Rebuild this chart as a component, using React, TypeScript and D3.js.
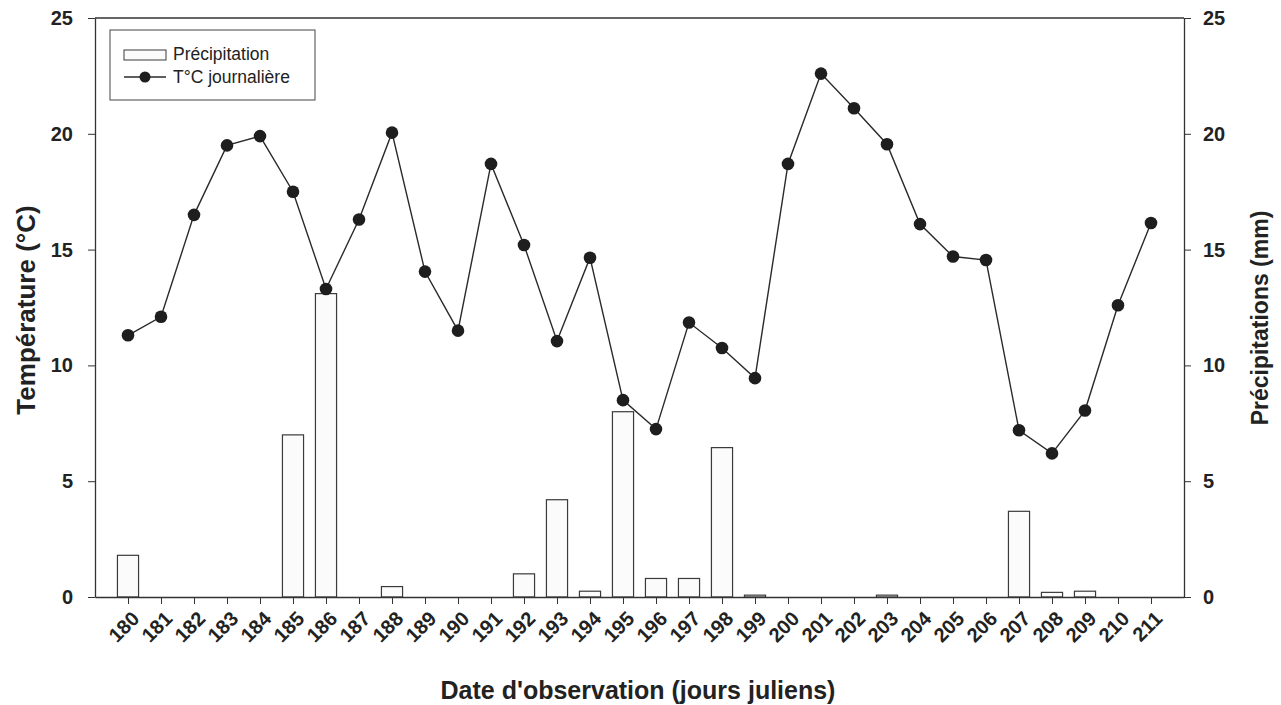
import React, {useEffect, useRef} from 'react';
import * as d3 from 'd3';

// Jours juliens observés
const days = d3.range(180, 212);

// Température journalière moyenne (°C)
const temperature = [
    11.3, 12.1, 16.5, 19.5, 19.9, 17.5, 13.3, 16.3, 20.05, 14.05,
    11.5, 18.7, 15.2, 11.05, 14.65, 8.5, 7.25, 11.85, 10.75, 9.45,
    18.7, 22.6, 21.1, 19.55, 16.1, 14.7, 14.55, 7.2, 6.2, 8.05,
    12.6, 16.15
];

// Précipitations (mm)
const precipitation = [
    1.8, 0, 0, 0, 0, 7.0, 13.1, 0, 0.45, 0,
    0, 0, 1.0, 4.2, 0.25, 8.0, 0.8, 0.8, 6.45, 0.08,
    0, 0, 0, 0.08, 0, 0, 0, 3.7, 0.2, 0.25,
    0, 0
];

const yTicks = [0, 5, 10, 15, 20, 25];

const width = 1281;
const height = 705;
const margin = {top: 18, right: 97, bottom: 108, left: 95};
const font = '"Liberation Sans", Arial, sans-serif';

export default function App() {
    const ref = useRef(null);

    useEffect(() => {
        document.body.style.margin = '0';
        drawChart();
    }, []);

    function drawChart() {
        const root = d3.select(ref.current);
        root.selectAll('*').remove();

        const svg = root
            .append('svg')
            .attr('width', width)
            .attr('height', height)
            .style('display', 'block')
            .style('background', '#fff')
            .style('font-family', font);

        const x0 = margin.left;
        const x1 = width - margin.right;
        const y0 = height - margin.bottom;
        const y1 = margin.top;

        const x = d3.scaleLinear().domain([179, 212]).range([x0, x1]);
        const yTemp = d3.scaleLinear().domain([0, 25]).range([y0, y1]);
        const yPrec = d3.scaleLinear().domain([0, 25]).range([y0, y1]);
        const barW = (x(181) - x(180)) * 0.64;

        const axisColor = '#333';
        const textColor = '#222';

        // Bars (précipitations)
        svg.append('g')
            .selectAll('rect')
            .data(days.map((d, i) => ({day: d, v: precipitation[i]})).filter(d => d.v > 0))
            .enter()
            .append('rect')
            .attr('x', d => x(d.day) - barW / 2)
            .attr('y', d => yPrec(d.v))
            .attr('width', barW)
            .attr('height', d => y0 - yPrec(d.v))
            .style('fill', '#fbfbfb')
            .style('stroke', '#3a3a3a')
            .style('stroke-width', 1.2);

        // Frame: top line, left and right axes
        svg.append('line')
            .attr('x1', x0).attr('x2', x1).attr('y1', y1).attr('y2', y1)
            .style('stroke', axisColor).style('stroke-width', 1.3);

        const left = svg.append('g')
            .attr('transform', `translate(${x0},0)`)
            .call(d3.axisLeft(yTemp).tickValues(yTicks).tickSize(7).tickSizeOuter(0).tickPadding(15));
        left.select('.domain').style('stroke', axisColor).style('stroke-width', 1.3);
        left.selectAll('.tick line').style('stroke', axisColor);
        left.selectAll('.tick text')
            .style('font-size', '20px').style('font-weight', 'bold').style('fill', textColor)
            .style('font-family', font);

        const right = svg.append('g')
            .attr('transform', `translate(${x1},0)`)
            .call(d3.axisRight(yPrec).tickValues(yTicks).tickSize(7).tickSizeOuter(0).tickPadding(12));
        right.select('.domain').style('stroke', axisColor).style('stroke-width', 1.3);
        right.selectAll('.tick line').style('stroke', axisColor);
        right.selectAll('.tick text')
            .style('font-size', '20px').style('font-weight', 'bold').style('fill', textColor)
            .style('font-family', font);

        // Bottom axis
        const bottom = svg.append('g')
            .attr('transform', `translate(0,${y0})`)
            .call(d3.axisBottom(x).tickValues(days).tickFormat(d3.format('d')).tickSize(7).tickSizeOuter(0));
        bottom.select('.domain').style('stroke', axisColor).style('stroke-width', 1.3);
        bottom.selectAll('.tick line').style('stroke', axisColor);
        bottom.selectAll('.tick text')
            .attr('text-anchor', 'end')
            .attr('dy', null)
            .attr('y', null)
            .attr('transform', 'translate(12,23) rotate(-45)')
            .style('font-size', '20px').style('font-weight', 'bold').style('fill', textColor)
            .style('font-family', font);

        // Line (température)
        const line = d3.line()
            .x((_, i) => x(days[i]))
            .y(d => yTemp(d));

        svg.append('path')
            .datum(temperature)
            .attr('d', line)
            .style('fill', 'none')
            .style('stroke', '#2a2a2a')
            .style('stroke-width', 1.4);

        svg.append('g')
            .selectAll('circle')
            .data(temperature)
            .enter()
            .append('circle')
            .attr('cx', (_, i) => x(days[i]))
            .attr('cy', d => yTemp(d))
            .attr('r', 6.3)
            .style('fill', '#1e1e1e');

        // Axis titles
        svg.append('text')
            .attr('x', 638)
            .attr('y', 699)
            .attr('text-anchor', 'middle')
            .style('font-size', '25px').style('font-weight', 'bold').style('fill', textColor)
            .text("Date d'observation (jours juliens)");

        svg.append('text')
            .attr('transform', 'translate(35,310) rotate(-90)')
            .attr('text-anchor', 'middle')
            .style('font-size', '26px').style('font-weight', 'bold').style('fill', textColor)
            .text('Température (°C)');

        svg.append('text')
            .attr('transform', 'translate(1268,318) rotate(-90)')
            .attr('text-anchor', 'middle')
            .style('font-size', '23px').style('font-weight', 'bold').style('fill', textColor)
            .text('Précipitations (mm)');

        // Legend
        const legend = svg.append('g').attr('transform', 'translate(110,30)');
        legend.append('rect')
            .attr('width', 205).attr('height', 70)
            .style('fill', '#fff').style('stroke', '#444').style('stroke-width', 1);
        legend.append('rect')
            .attr('x', 14).attr('y', 20).attr('width', 42).attr('height', 10)
            .style('fill', '#fbfbfb').style('stroke', '#3a3a3a').style('stroke-width', 1);
        legend.append('text')
            .attr('x', 63).attr('y', 30)
            .style('font-size', '17.5px').style('fill', textColor)
            .text('Précipitation');
        legend.append('line')
            .attr('x1', 14).attr('x2', 56).attr('y1', 47).attr('y2', 47)
            .style('stroke', '#2a2a2a').style('stroke-width', 1.4);
        legend.append('circle')
            .attr('cx', 35).attr('cy', 47).attr('r', 5.5)
            .style('fill', '#1e1e1e');
        legend.append('text')
            .attr('x', 63).attr('y', 53)
            .style('font-size', '17.5px').style('fill', textColor)
            .text('T°C journalière');
    }

    return <div ref={ref}/>;
}
